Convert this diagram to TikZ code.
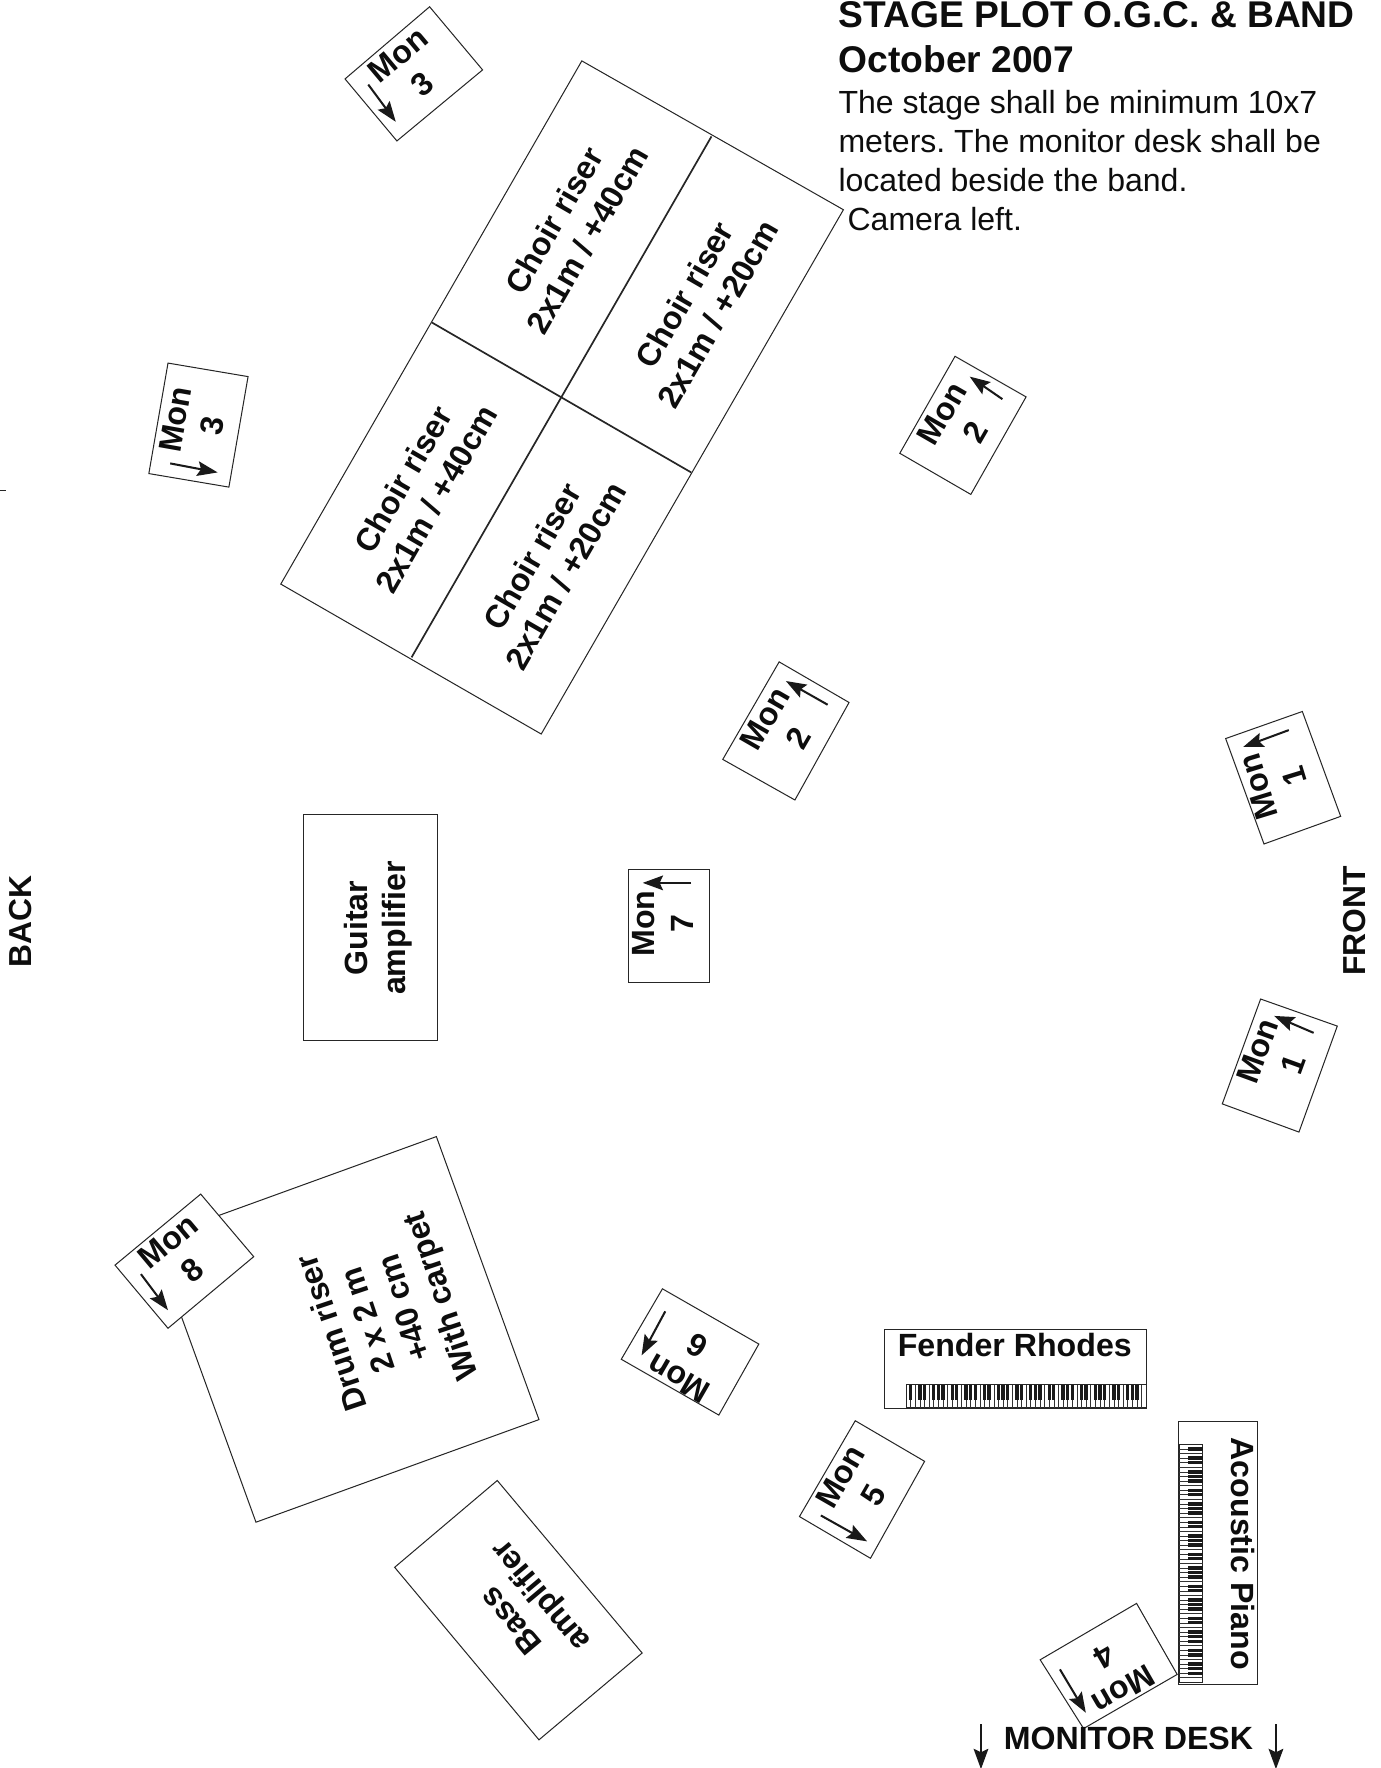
\documentclass[tikz,border=0pt]{standalone}
\usepackage{fontspec}
\setmainfont{Liberation Sans}
\usetikzlibrary{arrows.meta}
\tikzset{
  x=1pt,y=-1pt,
  box/.style={draw=black!85,fill=white,line width=0.9pt,minimum width=#1,inner sep=0pt},
  lab/.style={font=\fontsize{28.5}{34}\bfseries\selectfont,align=center,text=black!95,inner sep=0pt},
  title/.style={font=\fontsize{33}{40}\bfseries\selectfont,anchor=base west,inner sep=0pt,text=black!95},
  body/.style={font=\fontsize{28.4}{34}\selectfont,anchor=base west,inner sep=0pt,text=black!95},
  side/.style={font=\fontsize{28.2}{30}\bfseries\selectfont,inner sep=0pt,text=black!95},
  arr/.style={line width=1.8pt,draw=black!90,-{Stealth[length=18pt,width=13pt,inset=3pt]}},
  edge/.style={draw=black!85,line width=0.9pt},
}
\newcommand{\quadbox}[9]{%
  \coordinate (#1a) at (#2,#3); \coordinate (#1b) at (#4,#5);
  \coordinate (#1c) at (#6,#7); \coordinate (#1d) at (#8,#9);
  \draw[edge,fill=white,line join=miter] (#1a)--(#1b)--(#1c)--(#1d)--cycle;}
\newcommand{\monarrow}[5]{%
  \coordinate (#1s) at (#2,#3); \coordinate (#1e) at (#4,#5);
  \draw[arr] (#1s)--(#1e);}
\newcommand{\hasblack}[1]{\pgfmathtruncatemacro{\bk}{(#1>0 && mod(#1,7)!=2 && mod(#1,7)!=5) ? 1 : 0}}
\newcommand{\keysH}[4]{%
  \draw[edge,line width=0.7pt] (#1,#3) rectangle (#2,#4);
  \pgfmathsetmacro{\kw}{(#2-#1)/52}
  \foreach \i in {1,...,51}{
    \draw[black!80,line width=0.45pt] ({#1+\i*\kw},#3)--({#1+\i*\kw},#4);
    \hasblack{\i}
    \ifnum\bk=1
      \fill[black!90] ({#1+(\i-0.36)*\kw},#3) rectangle ({#1+(\i+0.36)*\kw},{#3+0.65*(#4-#3)});
    \fi
  }}
\newcommand{\keysV}[4]{%
  \draw[edge,line width=0.7pt] (#1,#3) rectangle (#2,#4);
  \pgfmathsetmacro{\kw}{(#4-#3)/52}
  \foreach \i in {1,...,51}{
    \draw[black!80,line width=0.45pt] (#1,{#3+\i*\kw})--(#2,{#3+\i*\kw});
    \hasblack{\i}
    \ifnum\bk=1
      \fill[black!90] ({#2-0.65*(#2-#1)},{#3+(\i-0.36)*\kw}) rectangle (#2,{#3+(\i+0.36)*\kw});
    \fi
  }}
\frenchspacing
\begin{document}
\begin{tikzpicture}
\useasboundingbox (0,0) rectangle (1224.7,1568);
% header
\node[title] (t1) at (743.5,24.5) {STAGE PLOT O.G.C. \& BAND};
\node[title] (t2) at (743.5,64.5) {October 2007};
\node[body] (t3) at (743.5,101) {The stage shall be minimum 10x7};
\node[body] (t4) at (743.5,135) {meters. The monitor desk shall be};
\node[body] (t5) at (743.5,169.5) {located beside the band.};
\node[body] (t6) at (751.5,204) {Camera left.};
% choir risers
\quadbox{ch}{516}{54}{748}{186}{480}{651}{249}{518}
\coordinate (d1) at (631,121); \coordinate (d2) at (365,583);
\coordinate (d3) at (383,286); \coordinate (d4) at (613,419);
\draw[edge,line width=1.5pt] (d1)--(d2);
\draw[edge,line width=1.5pt] (d3)--(d4);
\node[lab,rotate=60] (c1) at (506,204) {Choir riser\\2x1m / +40cm};
\node[lab,rotate=60] (c2) at (622,270) {Choir riser\\2x1m / +20cm};
\node[lab,rotate=60] (c3) at (372,434) {Choir riser\\2x1m / +40cm};
\node[lab,rotate=60] (c4) at (487,502) {Choir riser\\2x1m / +20cm};
% guitar amp
\quadbox{ga}{269}{722.5}{388}{722.5}{388}{922.5}{269}{922.5}
\node[lab,rotate=90] (g) at (335.5,823) {Guitar\\amplifier};
% drum riser then mon 8
\quadbox{dr}{387}{1008}{478}{1259}{227}{1350}{136}{1099}
\node[lab,rotate=108.5] (dt) at (344.5,1165) {Drum riser\\2 x 2 m\\+40 cm\\With carpet};
% bass
\quadbox{ba}{441}{1313}{569.5}{1466}{478}{1543}{350}{1390}
\node[lab,rotate=130] (bt) at (468,1425) {Bass\\amplifier};
% keyboards
\quadbox{fr}{784}{1179}{1017}{1179}{1017}{1249}{784}{1249}
\node[lab] (ft) at (900,1193) {Fender Rhodes};
\keysH{803.5}{1016.5}{1228}{1248.5}
\quadbox{ap}{1045.5}{1261}{1115}{1261}{1115}{1493.5}{1045.5}{1493.5}
\node[lab,rotate=-90] (at) at (1102,1378) {Acoustic Piano};
\keysV{1046}{1066.5}{1281}{1492}
% monitors
\quadbox{m3a}{381}{6}{428}{62}{352}{125}{306}{70}
\node[lab,rotate=40] (m3at) at (364,62) {Mon\\3};
\monarrow{m3aa}{326.6}{75}{351}{108}
\quadbox{m3b}{149}{322}{220}{334}{203}{432}{132}{420}
\node[lab,rotate=80] (m3bt) at (172,375) {Mon\\3};
\monarrow{m3ba}{151}{411}{193}{419}
\quadbox{m2a}{847}{316}{910}{352}{861}{438.5}{798}{402}
\node[lab,rotate=60] (m2at) at (850,375) {Mon\\2};
\monarrow{m2aa}{889}{354}{860}{334}
\quadbox{m2b}{691}{587}{753}{623}{705}{709.5}{641}{673.5}
\node[lab,rotate=60] (m2bt) at (693,646) {Mon\\2};
\monarrow{m2ba}{734}{625}{697}{604}
\quadbox{m1a}{1155}{631}{1189}{724}{1121}{748.5}{1087}{655}
\node[lab,rotate=107] (m1at) at (1132,693) {Mon\\1};
\monarrow{m1aa}{1143}{647.5}{1102.5}{662.5}
\quadbox{m1b}{1118}{886}{1186}{910}{1152}{1004}{1084}{979}
\node[lab,rotate=70] (m1bt) at (1131,938) {Mon\\1};
\monarrow{m1ba}{1165}{916}{1130}{901}
\node[box,minimum width=72pt,minimum height=100pt] (m7) at (593,821) {};
\node[lab,rotate=90] (m7t) at (588,819) {Mon\\7};
\monarrow{m7a}{613}{783}{570}{783}
\quadbox{m8}{178}{1059}{225}{1114.5}{149}{1178}{102}{1122}
\node[lab,rotate=40] (m8t) at (160,1114) {Mon\\8};
\monarrow{m8a}{125}{1130}{149}{1162}
\quadbox{m6}{587.5}{1143}{673}{1192}{637.5}{1255}{551}{1205.5}
\node[lab,rotate=150] (m6t) at (610,1208) {Mon\\6};
\monarrow{m6a}{590}{1163}{569}{1202}
\quadbox{m5}{758.5}{1260}{820}{1296}{772}{1382}{709}{1345}
\node[lab,rotate=60] (m5t) at (760,1318) {Mon\\5};
\monarrow{m5a}{728}{1344}{769}{1367}
\quadbox{m4}{1008}{1422}{1044}{1485}{961}{1533}{922.5}{1472}
\node[lab,rotate=210] (m4t) at (988,1484) {Mon\\4};
\monarrow{m4a}{940}{1480.5}{963}{1519}
% side labels
\node[side,rotate=90] (back) at (18,817) {BACK};
\node[side,rotate=90] (front) at (1201,817) {FRONT};
\node[lab,anchor=base] (md) at (1000.8,1552) {MONITOR DESK};
\coordinate (q1) at (870,1529); \coordinate (q2) at (870,1569);
\coordinate (q3) at (1131.6,1529); \coordinate (q4) at (1131.6,1569);
\draw[arr] (q1)--(q2); \draw[arr] (q3)--(q4);
\coordinate (tk1) at (0,435); \coordinate (tk2) at (5,435);
\draw[edge] (tk1)--(tk2);
\end{tikzpicture}
\end{document}
